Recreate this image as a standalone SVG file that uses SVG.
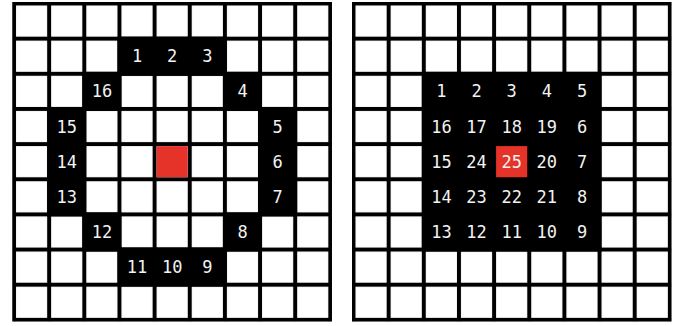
<svg xmlns="http://www.w3.org/2000/svg" width="685" height="326" viewBox="0 0 685 326">
<defs>
<pattern id="cells" x="0" y="0" width="35.15" height="35.15" patternUnits="userSpaceOnUse">
<rect x="0" y="0" width="35.15" height="35.15" fill="#000"/>
<rect x="2" y="2" width="31.15" height="31.15" fill="#fff"/>
</pattern>
<style>
.bg{fill:url(#cells);}
.frame{fill:none;stroke:#000;stroke-width:3;}
.blk{fill:#000;}
.red{fill:#e5332a;}
.num{font-family:"DejaVu Sans Mono","Liberation Mono",monospace;font-size:17px;fill:#f2f2f2;text-anchor:middle;dominant-baseline:central;}
</style>
</defs>
<rect width="685" height="326" fill="#fff"/>

<g id="grid-left" transform="translate(14,3.5)">
<rect class="bg" x="-1.5" y="-1.5" width="319.35" height="319.35"/>
<rect class="frame" x="0" y="0" width="316.35" height="316.35"/>
<g id="ring-cells">
<rect class="blk" x="103.45" y="33.15" width="109.45" height="39.15"/>
<rect class="blk" x="103.45" y="243.9" width="109.45" height="39.15"/>
<rect class="blk" x="68.3" y="68.3" width="39.15" height="39.15"/>
<rect class="blk" x="208.9" y="68.3" width="39.15" height="39.15"/>
<rect class="blk" x="68.3" y="208.9" width="39.15" height="39.15"/>
<rect class="blk" x="208.9" y="208.9" width="39.15" height="39.15"/>
<rect class="blk" x="33.15" y="103.45" width="39.15" height="109.45"/>
<rect class="blk" x="244.05" y="103.45" width="39.15" height="109.45"/>
</g>
<rect id="center-left" class="red" x="142.6" y="142.6" width="31.15" height="31.15"/>
<g id="labels-left">
<text class="num" x="123" y="52.7">1</text>
<text class="num" x="158.2" y="52.7">2</text>
<text class="num" x="193.3" y="52.7">3</text>
<text class="num" x="228.5" y="87.9">4</text>
<text class="num" x="263.6" y="123">5</text>
<text class="num" x="263.6" y="158.2">6</text>
<text class="num" x="263.6" y="193.3">7</text>
<text class="num" x="228.5" y="228.5">8</text>
<text class="num" x="193.3" y="263.6">9</text>
<text class="num" x="158.2" y="263.6">10</text>
<text class="num" x="123" y="263.6">11</text>
<text class="num" x="87.9" y="228.5">12</text>
<text class="num" x="52.7" y="193.3">13</text>
<text class="num" x="52.7" y="158.2">14</text>
<text class="num" x="52.7" y="123">15</text>
<text class="num" x="87.9" y="87.9">16</text>
</g>
</g>

<g id="grid-right" transform="translate(353.5,3.5)">
<rect class="bg" x="-1.5" y="-1.5" width="319.35" height="319.35"/>
<rect class="frame" x="0" y="0" width="316.35" height="316.35"/>
<rect id="block" class="blk" x="68.3" y="68.3" width="179.75" height="179.75"/>
<rect id="center-right" class="red" x="142.6" y="142.6" width="31.15" height="31.15"/>
<g id="labels-right">
<text class="num" x="87.9" y="87.9">1</text>
<text class="num" x="123" y="87.9">2</text>
<text class="num" x="158.2" y="87.9">3</text>
<text class="num" x="193.3" y="87.9">4</text>
<text class="num" x="228.5" y="87.9">5</text>
<text class="num" x="87.9" y="123">16</text>
<text class="num" x="123" y="123">17</text>
<text class="num" x="158.2" y="123">18</text>
<text class="num" x="193.3" y="123">19</text>
<text class="num" x="228.5" y="123">6</text>
<text class="num" x="87.9" y="158.2">15</text>
<text class="num" x="123" y="158.2">24</text>
<text class="num" x="158.2" y="158.2">25</text>
<text class="num" x="193.3" y="158.2">20</text>
<text class="num" x="228.5" y="158.2">7</text>
<text class="num" x="87.9" y="193.3">14</text>
<text class="num" x="123" y="193.3">23</text>
<text class="num" x="158.2" y="193.3">22</text>
<text class="num" x="193.3" y="193.3">21</text>
<text class="num" x="228.5" y="193.3">8</text>
<text class="num" x="87.9" y="228.5">13</text>
<text class="num" x="123" y="228.5">12</text>
<text class="num" x="158.2" y="228.5">11</text>
<text class="num" x="193.3" y="228.5">10</text>
<text class="num" x="228.5" y="228.5">9</text>
</g>
</g>
</svg>
